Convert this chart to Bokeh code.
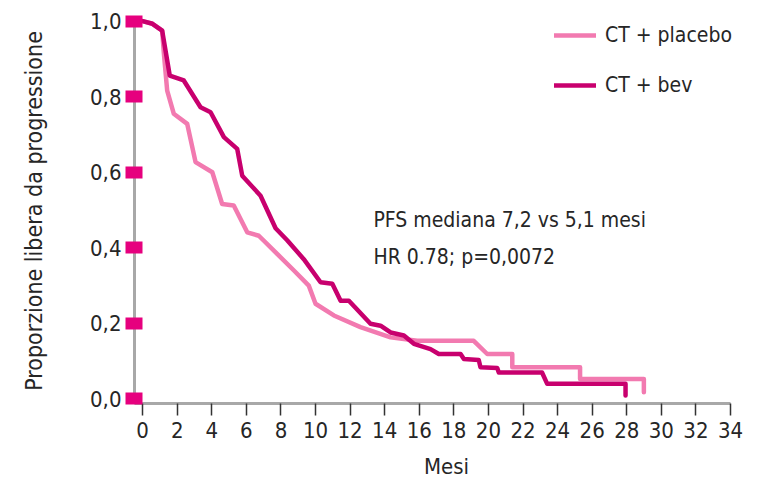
from bokeh.plotting import figure
from bokeh.models import Range1d, FixedTicker, CustomJSTickFormatter, Legend, LegendItem, Label
from bokeh.embed import file_html
from bokeh.resources import INLINE

# ---- data (months, proportion progression-free) ----
placebo_months = [0, 0.57, 1.13, 1.23, 1.42, 1.8, 2.58, 3.06, 4.03, 4.6, 5.27, 6.05, 6.72,
                  7.78, 8.75, 9.61, 10.0, 11.06, 12.6, 14.34, 15.88, 19.15, 19.93, 21.38,
                  21.38, 25.3, 25.3, 28.99, 28.99]
placebo_surv = [1.0, 0.993, 0.975, 0.914, 0.816, 0.755, 0.728, 0.627, 0.600, 0.516, 0.512,
                0.441, 0.432, 0.384, 0.34, 0.30, 0.252, 0.221, 0.19, 0.163, 0.154, 0.154,
                0.119, 0.119, 0.084, 0.084, 0.053, 0.053, 0.018]

bev_months = [0, 0.57, 1.13, 1.57, 2.38, 3.35, 3.93, 4.7, 5.47, 5.76, 6.82, 7.69, 8.36, 9.32,
              10.29, 10.97, 11.45, 11.93, 13.18, 13.76, 14.34, 15.11, 15.69, 16.65, 17.13,
              18.39, 18.58, 19.44, 19.54, 20.51, 20.6, 23.1, 23.4, 27.93, 27.93]
bev_surv = [1.0, 0.993, 0.975, 0.856, 0.843, 0.772, 0.759, 0.693, 0.662, 0.591, 0.538, 0.452,
            0.42, 0.37, 0.309, 0.305, 0.26, 0.26, 0.199, 0.194, 0.176, 0.168, 0.146, 0.132,
            0.119, 0.119, 0.106, 0.103, 0.084, 0.082, 0.07, 0.07, 0.040, 0.040, 0.009]

x_ticks = list(range(0, 35, 2))
y_ticks = [0.0, 0.2, 0.4, 0.6, 0.8, 1.0]
series_names = ["CT + placebo", "CT + bev"]
note_lines = ["PFS mediana 7,2 vs 5,1 mesi", "HR 0.78; p=0,0072"]
x_title = "Mesi"
y_title = "Proporzione libera da progressione"

FONT = "DejaVu Sans Condensed"
TEXT = "#262626"
C_PLACEBO = "#F27AB0"
C_BEV = "#C8006E"
C_MARK = "#E6007E"
AXIS_GRAY = "#a8a8a8"

X_START, X_AXIS_END = -0.47, 34

p = figure(width=759, height=486, output_backend="svg", toolbar_location=None,
           x_range=Range1d(X_START, 35.62), y_range=Range1d(-0.012, 1.007),
           min_border_left=134, min_border_right=1, min_border_top=18, min_border_bottom=83)
p.outline_line_color = None
p.xgrid.grid_line_color = None
p.ygrid.grid_line_color = None
p.background_fill_color = "white"
p.border_fill_color = "white"

r_pl = p.line(placebo_months, placebo_surv, line_color=C_PLACEBO, line_width=4.5,
              line_join="round", line_cap="round")
r_bev = p.line(bev_months, bev_surv, line_color=C_BEV, line_width=4.5,
               line_join="round", line_cap="round")

# x axis
xa = p.xaxis[0]
xa.bounds = (X_START, X_AXIS_END)
xa.ticker = FixedTicker(ticks=x_ticks)
xa.axis_line_color = AXIS_GRAY
xa.axis_line_width = 3
xa.major_tick_line_color = "#333333"
xa.major_tick_line_width = 1.5
xa.major_tick_in = 0
xa.major_tick_out = 12
xa.minor_tick_line_color = None
xa.major_label_text_font = FONT
xa.major_label_text_font_size = "22px"
xa.major_label_text_color = TEXT
xa.major_label_standoff = 6
xa.axis_label = x_title
xa.axis_label_text_font = FONT
xa.axis_label_text_font_size = "22px"
xa.axis_label_text_font_style = "normal"
xa.axis_label_text_color = TEXT
xa.axis_label_standoff = 13

# y axis with magenta block ticks
ya = p.yaxis[0]
ya.ticker = FixedTicker(ticks=y_ticks)
ya.formatter = CustomJSTickFormatter(code="return tick.toFixed(1).replace('.', ',');")
ya.axis_line_color = AXIS_GRAY
ya.axis_line_width = 3
ya.major_tick_line_color = C_MARK
ya.major_tick_line_width = 12
ya.major_tick_line_cap = "butt"
ya.major_tick_in = 8
ya.major_tick_out = 9
ya.minor_tick_line_color = None
ya.major_label_text_font = FONT
ya.major_label_text_font_size = "22px"
ya.major_label_text_color = TEXT
ya.major_label_standoff = 4
ya.axis_label = y_title
ya.axis_label_text_font = FONT
ya.axis_label_text_font_size = "23px"
ya.axis_label_text_font_style = "normal"
ya.axis_label_text_color = TEXT
ya.axis_label_standoff = 40

legend = Legend(items=[LegendItem(label=series_names[0], renderers=[r_pl]),
                       LegendItem(label=series_names[1], renderers=[r_bev])],
                location=(420, 306), padding=0, margin=0, spacing=26,
                glyph_width=42, glyph_height=24, label_height=24, label_standoff=9,
                label_text_font=FONT, label_text_font_size="21px", label_text_color=TEXT,
                border_line_color=None, background_fill_alpha=0)
p.add_layout(legend)

for i, t in enumerate(note_lines):
    p.add_layout(Label(x=13.35, y=0.475 - 0.098 * i, text=t, text_font=FONT,
                       text_font_size="21px", text_color=TEXT, text_baseline="alphabetic"))

open("out.html", "w").write(file_html(p, INLINE))
